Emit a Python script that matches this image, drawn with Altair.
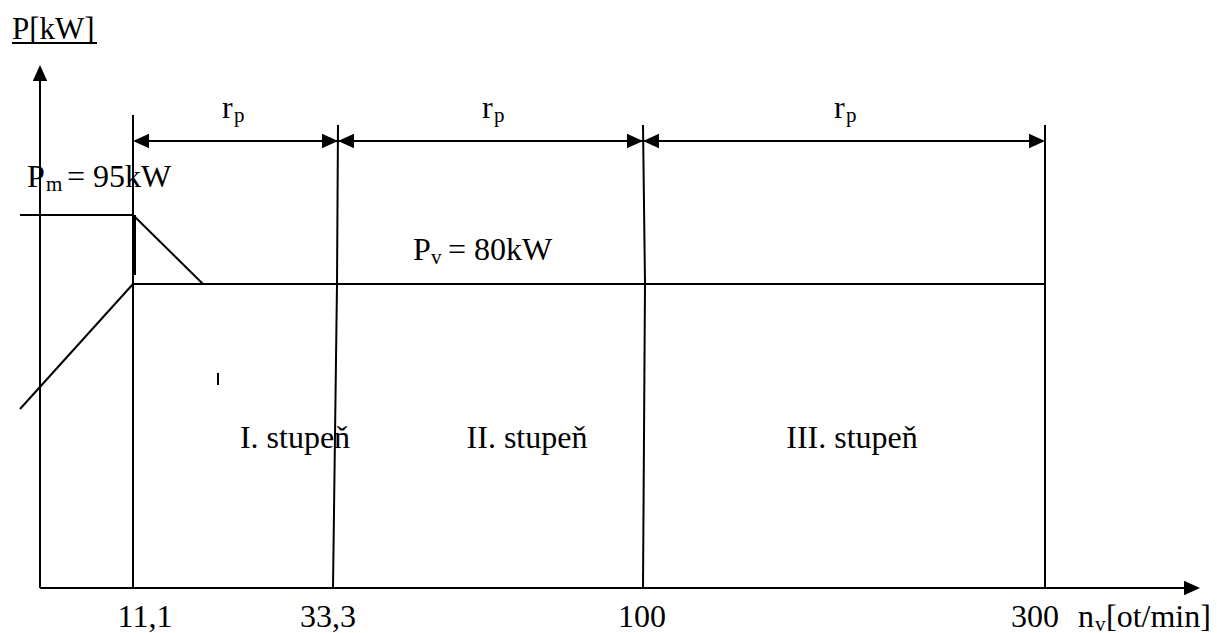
import altair as alt
import pandas as pd

FONT = "Liberation Serif"

# ---- schematic coordinates (units of the drawing) ----
speed_labels = ["11,1", "33,3", "100", "300"]
speed_label_x = [145, 328, 642, 1035]
boundary_top_x = [133, 338, 643, 1045]
boundary_mid_x = [133, 337, 645, 1045]
boundary_bot_x = [133, 333, 643, 1045]
boundary_top_y = [115, 125, 125, 125]

level_zero = 588      # P = 0
level_pv = 284        # P_v = 80 kW
level_pm = 215        # P_m = 95 kW
dim_line_y = 141      # r_p dimension line

stage_labels = ["I. stupeň", "II. stupeň", "III. stupeň"]
stage_x = [295, 527, 852]
stage_y = 448

rp_x = [222, 482, 834]
rp_y = 118

# free-hand lines of the power characteristic
char_x = [20, 133, 133, 20]
char_y = [level_pm, level_pm, level_pv, 409]
char_x2 = [133, 203, 1045, 133]
char_y2 = [level_pm, level_pv, level_pv, level_pv]

# axes
y_axis_x = 40
y_axis_tip = 65
x_axis_tip = 1200

# ---- build segment table ----
sx, sy, sx2, sy2 = [], [], [], []
def add(a, b, c, d):
    sx.append(a); sy.append(b); sx2.append(c); sy2.append(d)

add(y_axis_x, level_zero, y_axis_x, y_axis_tip + 14)
add(y_axis_x, level_zero, x_axis_tip - 15, level_zero)
for a, b, c, d in zip(char_x, char_y, char_x2, char_y2):
    add(a, b, c, d)
for tx, mx, bx, ty in zip(boundary_top_x, boundary_mid_x, boundary_bot_x, boundary_top_y):
    add(tx, ty, mx, level_pv)
    add(mx, level_pv, bx, level_zero)
add(boundary_top_x[0] + 2, dim_line_y, boundary_top_x[-1] - 2, dim_line_y)
add(12, 43, 97, 43)           # underline of P[kW]
add(218, 373, 218, 385)        # stray tick

seg = pd.DataFrame({"x": sx, "y": sy, "x2": sx2, "y2": sy2})
thick = pd.DataFrame({"x": [134], "y": [level_pm], "x2": [134], "y2": [275]})

X = alt.Scale(domain=[8, 1209])
Y = alt.Scale(domain=[8, 625], reverse=True)

def enc(ch):
    return ch.encode(
        x=alt.X("x:Q", scale=X, axis=None),
        y=alt.Y("y:Q", scale=Y, axis=None),
    )

lines = alt.Chart(seg).mark_rule(color="black", strokeWidth=2).encode(
    x=alt.X("x:Q", scale=X, axis=None),
    y=alt.Y("y:Q", scale=Y, axis=None),
    x2="x2:Q", y2="y2:Q",
)
thick_line = alt.Chart(thick).mark_rule(color="black", strokeWidth=4).encode(
    x=alt.X("x:Q", scale=X, axis=None),
    y=alt.Y("y:Q", scale=Y, axis=None),
    x2="x2:Q", y2="y2:Q",
)

right_path = "M0,0L-2,-0.9L-2,0.9Z"
left_path = "M0,0L2,-0.9L2,0.9Z"
up_path = "M0,0L-0.9,2L0.9,2Z"

right_tips = pd.DataFrame({"x": boundary_top_x[1:] + [x_axis_tip],
                           "y": [dim_line_y] * 3 + [level_zero]})
left_tips = pd.DataFrame({"x": boundary_top_x[:-1], "y": [dim_line_y] * 3})
up_tips = pd.DataFrame({"x": [y_axis_x], "y": [y_axis_tip]})

def heads(df, path):
    return enc(alt.Chart(df).mark_point(shape=path, filled=True, color="black",
                                        size=256, strokeWidth=0, opacity=1))

def text_layer(df, size, align="left"):
    return alt.Chart(df).mark_text(font=FONT, fontSize=size, color="black",
                                   align=align, baseline="alphabetic").encode(
        x=alt.X("x:Q", scale=X, axis=None),
        y=alt.Y("y:Q", scale=Y, axis=None),
        text="t:N",
    )

big_left = pd.DataFrame({
    "x": [27, 67, 413, 448] + rp_x + [1078, 1106],
    "y": [187, 187, 260, 260] + [rp_y] * 3 + [627, 627],
    "t": ["P", "= 95kW", "P", "= 80kW"] + ["r"] * 3 + ["n", "[ot/min]"],
})
subs = pd.DataFrame({
    "x": [46, 431] + [v + 12 for v in rp_x] + [1095],
    "y": [191, 264] + [rp_y + 4] * 3 + [631],
    "t": ["m", "v"] + ["p"] * 3 + ["v"],
})
centered = pd.DataFrame({
    "x": stage_x + speed_label_x,
    "y": [stage_y] * 3 + [627] * 4,
    "t": stage_labels + speed_labels,
})
title_df = pd.DataFrame({"x": [12], "y": [39], "t": ["P[kW]"]})

chart = alt.layer(
    lines, thick_line,
    heads(right_tips, right_path), heads(left_tips, left_path), heads(up_tips, up_path),
    text_layer(big_left, 32), text_layer(subs, 21), text_layer(centered, 32, "center"),
    text_layer(title_df, 31),
).properties(
    width=1201, height=617,
    padding={"left": 0, "top": 0, "right": 0, "bottom": 8},
    autosize=alt.AutoSizeParams(type="none"),
).configure_view(strokeWidth=0)

chart.save("out.html", embed_options={"renderer": "svg", "actions": False})
